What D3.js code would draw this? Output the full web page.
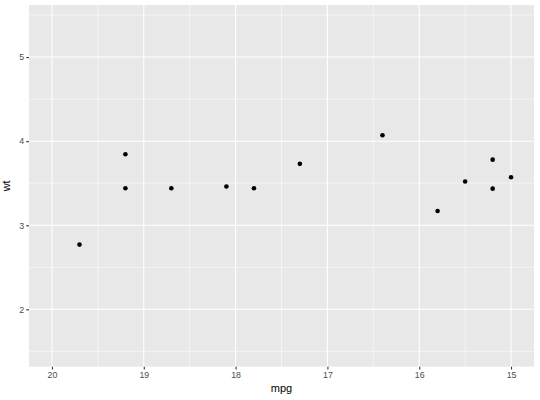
<!DOCTYPE html>
<html>
<head>
<meta charset="utf-8">
<script src="https://cdn.jsdelivr.net/npm/d3@7"></script>
<style>
  body { margin: 0; background: #fff; }
  text { font-family: "Liberation Sans", Arial, sans-serif; }
</style>
</head>
<body>
<div id="chart"></div>
<script>
// mtcars rows with 15 <= mpg <= 20
const mpg = [19.7, 19.2, 19.2, 18.7, 18.1, 17.8, 17.3, 16.4, 15.8, 15.5, 15.2, 15.2, 15.0];
const wt  = [2.770, 3.845, 3.440, 3.440, 3.460, 3.440, 3.730, 4.070, 3.170, 3.520, 3.780, 3.435, 3.570];
const xTicks = [20, 19, 18, 17, 16, 15];
const yTicks = [2, 3, 4, 5];
const xLimits = [15, 20];
const yLimits = [1.513, 5.424];   // trained on full wt range

const width = 540, height = 400;
const margin = {top: 5, right: 6, bottom: 33.3, left: 29};

function expand(lim, m) {
  const d = (lim[1] - lim[0]) * m;
  return [lim[0] - d, lim[1] + d];
}

const xd = expand(xLimits, 0.05), yd = expand(yLimits, 0.05);
const x = d3.scaleLinear().domain([xd[1], xd[0]]).range([margin.left, width - margin.right]);
const y = d3.scaleLinear().domain(yd).range([height - margin.bottom, margin.top]);

const svg = d3.select("#chart").append("svg")
  .attr("width", width).attr("height", height);

const pw = width - margin.left - margin.right;
const ph = height - margin.top - margin.bottom;

svg.append("rect")
  .attr("x", margin.left).attr("y", margin.top)
  .attr("width", pw).attr("height", ph)
  .attr("fill", "#E8E8E8");

// minor grid halfway between majors
const xMinor = d3.range(14.5, 20.6, 1).filter(v => v > xd[0] && v < xd[1]);
const yMinor = d3.range(1.5, 5.6, 1).filter(v => v > yd[0] && v < yd[1]);
const grid = svg.append("g");
grid.selectAll(".xmin").data(xMinor).join("line")
  .attr("x1", d => x(d)).attr("x2", d => x(d))
  .attr("y1", margin.top).attr("y2", margin.top + ph)
  .attr("stroke", "#fff").attr("stroke-width", 0.53);
grid.selectAll(".ymin").data(yMinor).join("line")
  .attr("y1", d => y(d)).attr("y2", d => y(d))
  .attr("x1", margin.left).attr("x2", margin.left + pw)
  .attr("stroke", "#fff").attr("stroke-width", 0.53);
grid.selectAll(".xmaj").data(xTicks).join("line")
  .attr("x1", d => x(d)).attr("x2", d => x(d))
  .attr("y1", margin.top).attr("y2", margin.top + ph)
  .attr("stroke", "#fff").attr("stroke-width", 1.07);
grid.selectAll(".ymaj").data(yTicks).join("line")
  .attr("y1", d => y(d)).attr("y2", d => y(d))
  .attr("x1", margin.left).attr("x2", margin.left + pw)
  .attr("stroke", "#fff").attr("stroke-width", 1.07);

// points
svg.append("g").selectAll("circle").data(mpg).join("circle")
  .attr("cx", d => x(d))
  .attr("cy", (d, i) => y(wt[i]))
  .attr("r", 2.3)
  .attr("fill", "#000");

// axes
const xAxis = svg.append("g")
  .attr("transform", `translate(0,${margin.top + ph})`)
  .call(d3.axisBottom(x).tickValues(xTicks).tickSize(2.75).tickPadding(2.2).tickFormat(d3.format("d")));
const yAxis = svg.append("g")
  .attr("transform", `translate(${margin.left},0)`)
  .call(d3.axisLeft(y).tickValues(yTicks).tickSize(2.75).tickPadding(2.2).tickFormat(d3.format("d")));
[xAxis, yAxis].forEach(a => {
  a.select(".domain").remove();
  a.selectAll(".tick line").attr("stroke", "#333333").attr("stroke-width", 1.07);
  a.selectAll(".tick text").attr("fill", "#4D4D4D")
    .style("font-size", "8.8px").style("font-family", "Liberation Sans, Arial, sans-serif");
});

svg.append("text")
  .attr("x", margin.left + pw / 2).attr("y", 391.5)
  .attr("text-anchor", "middle")
  .style("font-size", "11px").attr("fill", "#000")
  .text("mpg");

svg.append("text")
  .attr("transform", `translate(10,${margin.top + ph / 2}) rotate(-90)`)
  .attr("text-anchor", "middle")
  .style("font-size", "11px").attr("fill", "#000")
  .text("wt");
</script>
</body>
</html>
